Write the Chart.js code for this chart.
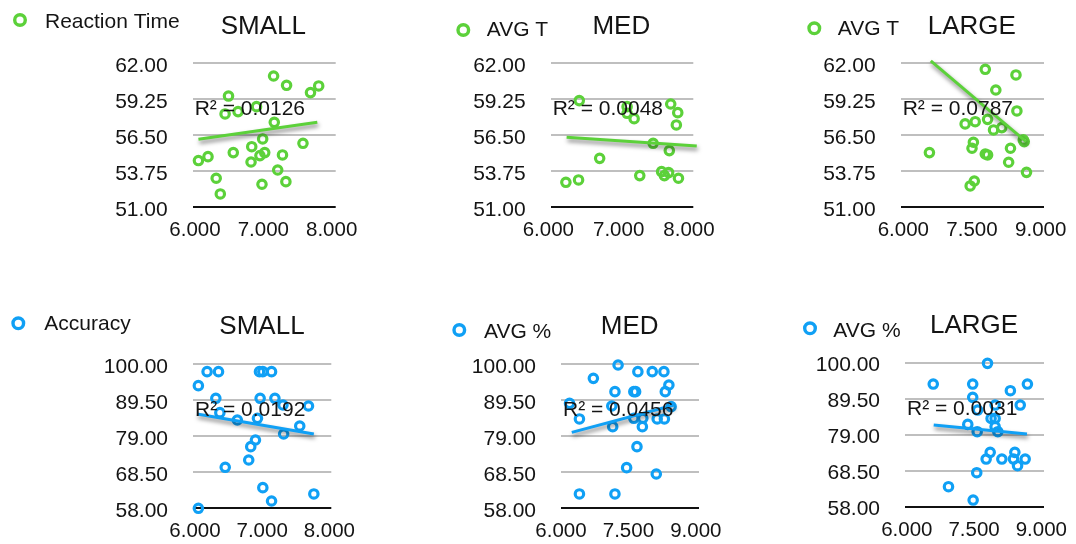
<!DOCTYPE html>
<html>
<head>
<meta charset="utf-8">
<title>Reaction time and accuracy by size</title>
<script src="https://cdn.jsdelivr.net/npm/chart.js@4.4.1/dist/chart.umd.min.js"></script>
<style>
  html, body { margin: 0; padding: 0; background: #ffffff; }
  body { width: 1076px; height: 544px; position: relative; overflow: hidden; }
  canvas { position: absolute; }
</style>
</head>
<body>
<script>
// ---- tick values ----
const timeTicks = [51, 53.75, 56.5, 59.25, 62];
const accTicks = [58, 68.5, 79, 89.5, 100];
const xTicksNarrow = [6, 7, 8];
const xTicksWide = [6, 7.5, 9];

// ---- text ----
const legendLabels = ['Reaction Time', 'AVG T', 'AVG T', 'Accuracy', 'AVG %', 'AVG %'];
const panelTitles = ['SMALL', 'MED', 'LARGE', 'SMALL', 'MED', 'LARGE'];
const r2Labels = ['0.0126', '0.0048', '0.0787', '0.0192', '0.0456', '0.0031'];

// ---- reaction time ----
const smallTimeX = [6.05, 6.19, 6.31, 6.37, 6.44, 6.49, 6.56, 6.63, 6.83, 6.82, 6.90, 6.99, 7.02, 6.95, 6.98, 7.15, 7.16, 7.21, 7.28, 7.33, 7.34, 7.58, 7.69, 7.81];
const smallTimeY = [54.57, 54.87, 53.22, 52.02, 58.13, 59.50, 55.18, 58.31, 55.63, 54.46, 58.69, 56.22, 55.18, 54.95, 52.76, 61.03, 57.49, 53.85, 55.00, 52.96, 60.32, 55.89, 59.76, 60.27];
const smallTimeTrendX = [6.05, 7.79];
const smallTimeTrendY = [56.19, 57.49];

const medTimeX = [6.25, 6.43, 6.44, 6.73, 7.12, 7.22, 7.12, 7.30, 7.49, 7.61, 7.65, 7.71, 7.72, 7.74, 7.84, 7.82, 7.85];
const medTimeY = [52.91, 53.09, 59.15, 54.74, 58.18, 57.77, 58.69, 53.42, 55.89, 53.73, 53.42, 53.65, 55.33, 58.89, 58.23, 57.29, 53.22];
const medTimeTrendX = [6.26, 8.11];
const medTimeTrendY = [56.35, 55.69];

const largeTimeX = [6.57, 7.35, 7.57, 7.53, 7.50, 7.55, 7.46, 7.79, 7.84, 7.79, 8.02, 7.84, 7.97, 8.15, 8.34, 8.30, 8.46, 8.48, 8.64, 8.69, 8.62];
const largeTimeY = [55.18, 57.37, 57.54, 55.97, 55.51, 53.01, 52.63, 61.54, 55.00, 55.07, 59.96, 57.72, 56.91, 57.09, 55.51, 54.44, 61.11, 58.36, 56.02, 53.67, 56.15];
const largeTimeTrendX = [6.60, 8.68];
const largeTimeTrendY = [62.18, 56.02];

// ---- accuracy ----
const smallAccX = [6.05, 6.05, 6.18, 6.35, 6.31, 6.45, 6.37, 6.63, 6.80, 6.83, 6.90, 6.93, 6.96, 7.01, 7.14, 6.97, 7.01, 7.14, 7.19, 7.31, 7.32, 7.56, 7.69, 7.77];
const smallAccY = [93.70, 58.00, 97.77, 97.77, 90.01, 69.93, 85.84, 83.70, 72.06, 75.94, 77.88, 84.19, 97.77, 97.77, 97.77, 90.01, 64.01, 60.13, 90.01, 88.07, 79.63, 81.96, 87.78, 62.17];
const smallAccTrendX = [6.03, 7.77];
const smallAccTrendY = [85.45, 79.63];

const medAccX = [6.41, 6.41, 6.19, 6.72, 7.15, 7.13, 7.20, 7.20, 7.27, 7.46, 7.62, 7.66, 7.69, 7.71, 7.62, 7.81, 7.82, 8.03, 8.12, 8.14, 8.29, 8.30, 8.32, 8.40, 8.45];
const medAccY = [62.17, 84.00, 88.55, 95.83, 81.76, 87.78, 91.95, 62.17, 99.71, 69.83, 91.95, 91.95, 75.94, 97.77, 84.19, 81.76, 84.19, 97.77, 67.99, 84.00, 97.77, 84.00, 91.95, 93.89, 87.59];
const medAccTrendX = [6.24, 8.52];
const medAccTrendY = [80.11, 88.07];

const largeAccX = [6.59, 6.93, 7.36, 7.47, 7.47, 7.48, 7.56, 7.57, 7.58, 7.80, 7.77, 7.86, 7.88, 7.97, 7.97, 8.03, 7.97, 8.12, 8.31, 8.38, 8.41, 8.47, 8.53, 8.64, 8.69];
const largeAccY = [93.78, 63.83, 82.01, 93.78, 89.89, 59.94, 67.92, 79.88, 86.19, 99.81, 71.90, 73.85, 83.76, 83.76, 81.33, 79.88, 87.65, 71.90, 91.83, 71.90, 73.85, 69.96, 87.65, 71.90, 93.78];
const largeAccTrendX = [6.60, 8.68];
const largeAccTrendY = [81.82, 79.20];

// ---- styling ----
const GREEN = 'rgb(92, 209, 58)';
const BLUE = 'rgb(16, 160, 245)';
const TEXT = '#141414';
const FONT = "'Liberation Sans', Arial, Helvetica, sans-serif";

// ---- panel placement (canvas box, plot area, x range, legend & title anchors) ----
const panels = [
  { canvas: [0, 0, 380, 280], area: [192.7, 63.3, 335.7, 207.3], xRange: [5.966, 8.059], xTicks: xTicksNarrow, yTicks: timeTicks,
    xs: smallTimeX, ys: smallTimeY, tx: smallTimeTrendX, ty: smallTimeTrendY, color: GREEN, legend: [20, 20, 45, 20], title: [263.3, 24.7] },
  { canvas: [358, 0, 380, 280], area: [550.7, 63.3, 693.3, 207.3], xRange: [6.034, 8.061], xTicks: xTicksNarrow, yTicks: timeTicks,
    xs: medTimeX, ys: medTimeY, tx: medTimeTrendX, ty: medTimeTrendY, color: GREEN, legend: [463.3, 30, 486.7, 28.8], title: [621.3, 24.2] },
  { canvas: [716, 0, 360, 280], area: [900.7, 63.3, 1044, 207.3], xRange: [5.943, 9.072], xTicks: xTicksWide, yTicks: timeTicks,
    xs: largeTimeX, ys: largeTimeY, tx: largeTimeTrendX, ty: largeTimeTrendY, color: GREEN, legend: [814.3, 28.3, 837.7, 27.5], title: [971.8, 24.2] },
  { canvas: [0, 272, 380, 280], area: [193, 364, 331.3, 508.3], xRange: [5.97, 8.03], xTicks: xTicksNarrow, yTicks: accTicks,
    xs: smallAccX, ys: smallAccY, tx: smallAccTrendX, ty: smallAccTrendY, color: BLUE, legend: [18.3, 323.3, 44.3, 322.5], title: [262, 324.7] },
  { canvas: [358, 272, 380, 280], area: [561, 364, 699, 508.3], xRange: [6.0, 9.07], xTicks: xTicksWide, yTicks: accTicks,
    xs: medAccX, ys: medAccY, tx: medAccTrendX, ty: medAccTrendY, color: BLUE, legend: [459.3, 330, 484, 330.8], title: [629.7, 324.7] },
  { canvas: [716, 272, 360, 280], area: [905, 362.7, 1044, 506.7], xRange: [5.96, 9.06], xTicks: xTicksWide, yTicks: accTicks,
    xs: largeAccX, ys: largeAccY, tx: largeAccTrendX, ty: largeAccTrendY, color: BLUE, legend: [810, 328.3, 833.3, 329.2], title: [974, 323.5] }
];

const Y_AXIS_W = 110;
const X_AXIS_H = 42;

// Soft drop shadow under the trend line
const trendShadow = {
  id: 'trendShadow',
  beforeDatasetDraw(chart, args) {
    if (!chart.data.datasets[args.index].isTrend) return;
    const ctx = chart.ctx;
    ctx.save();
    ctx.shadowColor = 'rgba(0, 0, 0, 0.5)';
    ctx.shadowBlur = 4;
    ctx.shadowOffsetX = 1;
    ctx.shadowOffsetY = 3;
  },
  afterDatasetDraw(chart, args) {
    if (!chart.data.datasets[args.index].isTrend) return;
    chart.ctx.restore();
  }
};

// Legend entry, title and R² label for each panel
const panelText = {
  id: 'panelText',
  afterDraw(chart, args, opts) {
    const ctx = chart.ctx;
    const ox = opts.origin[0], oy = opts.origin[1];
    const capMid = (size) => size * 0.358;
    ctx.save();
    // legend marker
    ctx.strokeStyle = opts.color;
    ctx.lineWidth = 3.4;
    ctx.beginPath();
    ctx.arc(opts.legend[0] - ox, opts.legend[1] - oy, 5.3, 0, Math.PI * 2);
    ctx.stroke();
    // legend text
    ctx.fillStyle = TEXT;
    ctx.textBaseline = 'alphabetic';
    ctx.textAlign = 'left';
    ctx.font = '21px ' + FONT;
    ctx.fillText(opts.legendText, opts.legend[2] - ox, opts.legend[3] - oy + capMid(21));
    // title
    ctx.textAlign = 'center';
    ctx.font = '26px ' + FONT;
    ctx.fillText(opts.title, opts.titlePos[0] - ox, opts.titlePos[1] - oy + capMid(26));
    // R² label
    const a = chart.chartArea;
    ctx.textAlign = 'left';
    ctx.font = '21px ' + FONT;
    ctx.fillText('R\u00B2 = ' + opts.r2, a.left + 2, a.top + 44.5 + capMid(21));
    ctx.restore();
  }
};

panels.forEach((p, i) => {
  const [cx, cy, cw, ch] = p.canvas;
  const [al, at, ar, ab] = p.area;
  const cv = document.createElement('canvas');
  cv.width = cw;
  cv.height = ch;
  cv.style.left = cx + 'px';
  cv.style.top = cy + 'px';
  cv.style.width = cw + 'px';
  cv.style.height = ch + 'px';
  document.body.appendChild(cv);

  const yMin = p.yTicks[0];
  const yMax = p.yTicks[p.yTicks.length - 1];

  new Chart(cv, {
    type: 'scatter',
    data: {
      datasets: [
        {
          label: 'trend',
          isTrend: true,
          data: p.tx.map((x, k) => ({ x: x, y: p.ty[k] })),
          showLine: true,
          borderColor: p.color,
          borderWidth: 3,
          pointRadius: 0,
          fill: false,
          clip: false,
          order: 0
        },
        {
          label: legendLabels[i],
          data: p.xs.map((x, k) => ({ x: x, y: p.ys[k] })),
          pointStyle: 'circle',
          pointRadius: 4.2,
          pointBorderWidth: 3.2,
          borderColor: p.color,
          backgroundColor: 'rgba(255,255,255,0)',
          clip: false,
          order: 1
        }
      ]
    },
    options: {
      responsive: false,
      animation: false,
      events: [],
      devicePixelRatio: 1,
      layout: {
        autoPadding: false,
        padding: {
          left: al - cx - Y_AXIS_W,
          top: at - cy,
          right: cx + cw - ar,
          bottom: cy + ch - ab - X_AXIS_H
        }
      },
      plugins: {
        legend: { display: false },
        title: { display: false },
        tooltip: { enabled: false },
        panelText: {
          origin: [cx, cy],
          color: p.color,
          legend: p.legend,
          legendText: legendLabels[i],
          title: panelTitles[i],
          titlePos: p.title,
          r2: r2Labels[i]
        }
      },
      scales: {
        x: {
          type: 'linear',
          min: p.xRange[0],
          max: p.xRange[1],
          afterBuildTicks: (s) => { s.ticks = p.xTicks.map(v => ({ value: v })); },
          afterFit: (s) => { s.height = X_AXIS_H; },
          grid: { display: false },
          border: { display: false },
          ticks: {
            autoSkip: false,
            maxRotation: 0,
            padding: 3,
            color: TEXT,
            font: { family: FONT, size: 20.5 },
            callback: (v) => Number(v).toFixed(3)
          }
        },
        y: {
          type: 'linear',
          min: yMin,
          max: yMax,
          afterBuildTicks: (s) => { s.ticks = p.yTicks.map(v => ({ value: v })); },
          afterFit: (s) => { s.width = Y_AXIS_W; },
          border: { display: false },
          grid: {
            drawTicks: false,
            lineWidth: 2,
            color: (c) => (c.tick && c.tick.value === yMin) ? '#111111' : '#bfbfbf'
          },
          ticks: {
            padding: 25,
            labelOffset: 3,
            color: TEXT,
            font: { family: FONT, size: 21 },
            callback: (v) => Number(v).toFixed(2)
          }
        }
      }
    },
    plugins: [trendShadow, panelText]
  });
});
</script>
</body>
</html>
